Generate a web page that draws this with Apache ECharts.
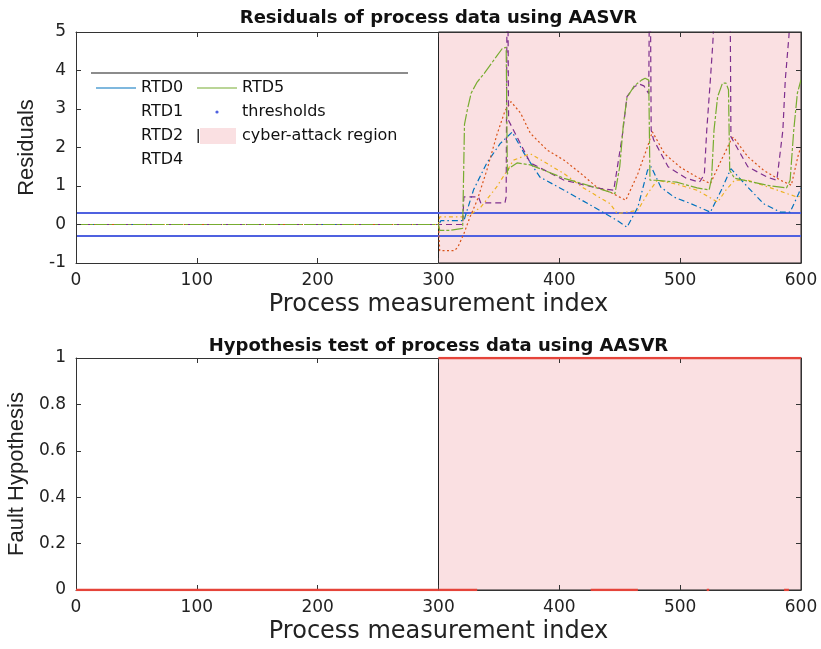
<!DOCTYPE html>
<html>
<head>
<meta charset="utf-8">
<script src="https://cdn.jsdelivr.net/npm/echarts@6/dist/echarts.min.js"></script>
<style>html,body{margin:0;padding:0;background:#fff}#c{width:821px;height:649px}</style>
</head>
<body>
<div id="c"></div>
<script>
// ---------- data ----------
const xMin = 0, xMax = 600, xInterval = 100;
const residualMin = -1, residualMax = 5, residualInterval = 1;
const hypMin = 0, hypMax = 1, hypInterval = 0.2;
const attackStart = 300, attackEnd = 600;
const thresholdUpper = 0.3, thresholdLower = -0.3;
const titleTop = 'Residuals of process data using AASVR';
const titleBottom = 'Hypothesis test of process data using AASVR';

const rtd0X = [0, 300, 302, 321, 329, 340, 351, 361, 371, 384, 404, 426, 448, 456, 465, 473, 476, 484, 495, 509, 525, 534, 542, 556, 569, 583, 591, 598, 600];
const rtd0Y = [0, 0, 0.1, 0.1, 0.9, 1.6, 2.1, 2.4, 1.84, 1.23, 0.89, 0.5, 0.1, -0.07, 0.45, 1.41, 1.5, 0.97, 0.71, 0.54, 0.32, 0.89, 1.45, 0.97, 0.54, 0.32, 0.32, 0.8, 0.95];

const rtd1X = [0, 300, 301, 313, 316, 321, 326, 332, 340, 348, 355, 360, 368, 376, 390, 404, 418, 431, 442, 455, 465, 473, 477, 487, 500, 514, 525, 534, 542, 544, 556, 569, 583, 592, 598, 600];
const rtd1Y = [0, 0, -0.68, -0.68, -0.59, -0.24, 0.19, 0.63, 1.41, 2.3, 2.95, 3.19, 2.89, 2.37, 1.93, 1.67, 1.32, 0.97, 0.84, 0.63, 1.32, 2.02, 2.41, 1.84, 1.49, 1.23, 1.06, 1.67, 2.19, 2.27, 1.76, 1.41, 1.15, 1.02, 1.84, 2.0];

const rtd2X = [0, 300, 301, 321, 326, 335, 348, 357, 362, 376, 404, 420, 442, 448, 465, 473, 481, 497, 514, 531, 538, 545, 556, 575, 597, 600];
const rtd2Y = [0, 0, 0.2, 0.2, 0.25, 0.45, 0.97, 1.41, 1.67, 1.84, 1.32, 0.95, 0.54, 0.28, 0.37, 0.8, 1.15, 1.05, 0.89, 0.58, 0.9, 1.15, 1.15, 0.95, 0.71, 0.75];

const rtd4X = [0, 320, 321, 333, 335, 355, 356, 357, 358, 376, 404, 431, 445, 452, 456, 462, 466, 470, 474, 475, 476, 478, 490, 505, 516, 520, 522, 525, 527, 529, 540, 541, 542, 556, 572, 580, 585, 587, 590, 592, 600];
const rtd4Y = [0, 0, 0.72, 0.72, 0.56, 0.56, 0.72, 8, 2.7, 1.6, 1.15, 0.95, 0.89, 2.28, 3.32, 3.58, 3.65, 3.6, 3.4, 8, 2.45, 2.2, 1.5, 1.2, 1.1, 1.3, 2.45, 3.76, 4.7, 6, 6, 8, 2.28, 1.5, 1.23, 1.15, 2.45, 3.76, 4.89, 6, 6];

const rtd5X = [0, 300, 301, 310, 320, 321.5, 324, 327, 332, 338, 346, 353, 356, 357, 358, 365, 376, 404, 431, 446, 450, 453, 456, 462, 468, 471, 474, 475, 480, 497, 514, 524, 526, 528, 531, 535, 538, 540, 541, 545, 560, 575, 588, 591, 594, 597, 600];
const rtd5Y = [0, 0, -0.15, -0.15, -0.1, 2.6, 3.0, 3.41, 3.7, 3.93, 4.28, 4.58, 4.6, 1.3, 1.45, 1.6, 1.55, 1.2, 0.95, 0.8, 1.5, 2.6, 3.3, 3.6, 3.75, 3.8, 3.75, 1.15, 1.15, 1.1, 0.95, 0.9, 1.2, 2.45, 3.32, 3.67, 3.67, 3.5, 1.41, 1.2, 1.1, 1.0, 0.95, 1.15, 2.45, 3.41, 3.76];

// hypothesis test: [start, end] index ranges where value is 0 / 1
const hypZeroValue = 0, hypOneValue = 1;
const hypZeroSegments = [[0, 300], [300, 332], [426, 465], [522, 524], [586, 590]];
const hypOneSegments = [[300, 600]];

// ---------- styling ----------
const F = 'DejaVu Sans';
const FN = 'Liberation Sans';
const frameColor = '#333';
const pink = 'rgb(250,224,226)';
const thrColor = '#4F61E0';
const hypColor = '#E5443A';
const colors = { RTD0: '#0072BD', RTD1: '#D95319', RTD2: '#EDB120', RTD4: '#7E2F8E', RTD5: '#77AC30' };

const pair = (xs, ys) => xs.map((x, i) => [x, ys[i]]);

function xAx(gridIndex, position, withLabels) {
  return {
    type: 'value', gridIndex, position, min: xMin, max: xMax, interval: xInterval, z: 10,
    axisLine: { show: true, onZero: false, lineStyle: { color: frameColor, width: 1 } },
    axisTick: { show: true, inside: true, length: 5, lineStyle: { color: frameColor } },
    axisLabel: { show: withLabels, fontFamily: F, fontSize: 17, color: '#222', margin: 9, showMinLabel: true, showMaxLabel: true },
    splitLine: { show: false },
    name: withLabels ? 'Process measurement index' : '',
    nameLocation: 'middle', nameGap: 30,
    nameTextStyle: { fontFamily: F, fontSize: 24, color: '#222' }
  };
}
function yAx(gridIndex, position, min, max, interval, name, nameGap) {
  const withLabels = position === 'left';
  return {
    type: 'value', gridIndex, position, min, max, interval, z: 10,
    axisLine: { show: true, onZero: false, lineStyle: { color: frameColor, width: 1 } },
    axisTick: { show: true, inside: true, length: 5, lineStyle: { color: frameColor } },
    axisLabel: { show: withLabels, fontFamily: F, fontSize: 17, color: '#222', margin: 10, showMinLabel: true, showMaxLabel: true },
    splitLine: { show: false },
    name: withLabels ? name : '',
    nameLocation: 'middle', nameGap,
    nameTextStyle: { fontFamily: FN, fontSize: 22, color: '#222' }
  };
}

function rtdSeries(name, xs, ys, dash) {
  return {
    type: 'line', name, xAxisIndex: 0, yAxisIndex: 0, data: pair(xs, ys),
    symbol: 'none', clip: true, z: 4, color: colors[name],
    lineStyle: { width: 1.2, color: colors[name], type: dash },
    emphasis: { disabled: true }
  };
}

const series = [
  {
    type: 'line', name: 'cyber-attack region', xAxisIndex: 0, yAxisIndex: 0, data: [], z: 1, color: pink,
    markArea: { silent: true, itemStyle: { color: pink, borderColor: '#222', borderWidth: 1 },
      data: [[{ xAxis: attackStart, yAxis: residualMin }, { xAxis: attackEnd, yAxis: residualMax }]] }
  },
  {
    type: 'line', name: 'cyber-attack region hyp', xAxisIndex: 2, yAxisIndex: 2, data: [], z: 1, color: pink,
    markArea: { silent: true, itemStyle: { color: pink, borderColor: '#222', borderWidth: 1 },
      data: [[{ xAxis: attackStart, yAxis: hypMin }, { xAxis: attackEnd, yAxis: hypMax }]] }
  },
  { type: 'line', name: 'thresholds', xAxisIndex: 0, yAxisIndex: 0, data: [[xMin, thresholdUpper], [xMax, thresholdUpper]],
    symbol: 'none', z: 3, color: thrColor, lineStyle: { width: 2, color: thrColor } },
  { type: 'line', name: 'thresholds', xAxisIndex: 0, yAxisIndex: 0, data: [[xMin, thresholdLower], [xMax, thresholdLower]],
    symbol: 'none', z: 3, color: thrColor, lineStyle: { width: 2, color: thrColor } },
  rtdSeries('RTD0', rtd0X, rtd0Y, [6, 3, 1.5, 3]),
  rtdSeries('RTD2', rtd2X, rtd2Y, [4, 3, 1.5, 3]),
  rtdSeries('RTD1', rtd1X, rtd1Y, [2, 2.5]),
  rtdSeries('RTD4', rtd4X, rtd4Y, [6, 4]),
  rtdSeries('RTD5', rtd5X, rtd5Y, [12, 2, 3, 2])
];
hypZeroSegments.forEach((s, i) => series.push({
  type: 'line', name: 'hyp0_' + i, xAxisIndex: 2, yAxisIndex: 2, data: [[s[0], hypZeroValue], [s[1], hypZeroValue]],
  symbol: 'none', z: 20, color: hypColor, lineStyle: { width: 2.5, color: hypColor }
}));
hypOneSegments.forEach((s, i) => series.push({
  type: 'line', name: 'hyp1_' + i, xAxisIndex: 2, yAxisIndex: 2, data: [[s[0], hypOneValue], [s[1], hypOneValue]],
  symbol: 'none', z: 20, color: hypColor, lineStyle: { width: 2.5, color: hypColor }
}));

const box = 'M0,0L0,0M40,16L40,16';
const lineIcon = 'path://' + box + 'M0,7.5L40,7.5L40,8.5L0,8.5Z';
const blankIcon = 'path://' + box;
const dotIcon = 'path://' + box + 'M18.4,8A1.6,1.6,0,1,0,21.6,8A1.6,1.6,0,1,0,18.4,8Z';
const rectIcon = 'path://' + box + 'M3,0L39,0L39,16L3,16Z';
const hidden = { color: 'rgba(0,0,0,0)', borderColor: 'rgba(0,0,0,0)', borderWidth: 0 };
const legendCommon = {
  orient: 'vertical', top: 80, itemWidth: 40, itemHeight: 16, itemGap: 8, padding: 0,
  selectedMode: false, textStyle: { fontFamily: F, fontSize: 16, color: '#111' }
};
const titleFont = 'bold 18px "DejaVu Sans"';

const option = {
  animation: false,
  backgroundColor: '#fff',
  grid: [
    { left: 76, right: 20, top: 32, height: 231, outerBoundsMode: 'none' },
    { left: 76, right: 20, top: 358, height: 232, outerBoundsMode: 'none' }
  ],
  xAxis: [xAx(0, 'bottom', true), xAx(0, 'top', false), xAx(1, 'bottom', true), xAx(1, 'top', false)],
  yAxis: [
    yAx(0, 'left', residualMin, residualMax, residualInterval, 'Residuals', 30),
    yAx(0, 'right', residualMin, residualMax, residualInterval, '', 0),
    yAx(1, 'left', hypMin, hypMax, hypInterval, 'Fault Hypothesis', 39),
    yAx(1, 'right', hypMin, hypMax, hypInterval, '', 0)
  ],
  legend: [
    Object.assign({}, legendCommon, { left: 96, data: [
      { name: 'RTD0', icon: lineIcon, itemStyle: { color: colors.RTD0, borderWidth: 0 } },
      { name: 'RTD1', icon: blankIcon, itemStyle: hidden },
      { name: 'RTD2', icon: blankIcon, itemStyle: hidden },
      { name: 'RTD4', icon: blankIcon, itemStyle: hidden }
    ] }),
    Object.assign({}, legendCommon, { left: 197, data: [
      { name: 'RTD5', icon: lineIcon, itemStyle: { color: colors.RTD5, borderWidth: 0 } },
      { name: 'thresholds', icon: dotIcon, itemStyle: { color: thrColor, borderWidth: 0 } },
      { name: 'cyber-attack region', icon: rectIcon, itemStyle: { color: pink, borderWidth: 0 } }
    ] })
  ],
  graphic: [
    { type: 'text', x: 438.5, y: 18, z: 100, style: { text: titleTop, font: titleFont, fill: '#111', align: 'center', verticalAlign: 'middle' } },
    { type: 'text', x: 438.5, y: 346, z: 100, style: { text: titleBottom, font: titleFont, fill: '#111', align: 'center', verticalAlign: 'middle' } },
    { type: 'line', shape: { x1: 91, y1: 73, x2: 408, y2: 73 }, style: { stroke: '#666', lineWidth: 1.5 }, z: 100 },
    { type: 'rect', shape: { x: 197.5, y: 129, width: 1.5, height: 14 }, style: { fill: '#333' }, z: 100 }
  ],
  series
};

const chart = echarts.init(document.getElementById('c'));
chart.setOption(option);
</script>
</body>
</html>
